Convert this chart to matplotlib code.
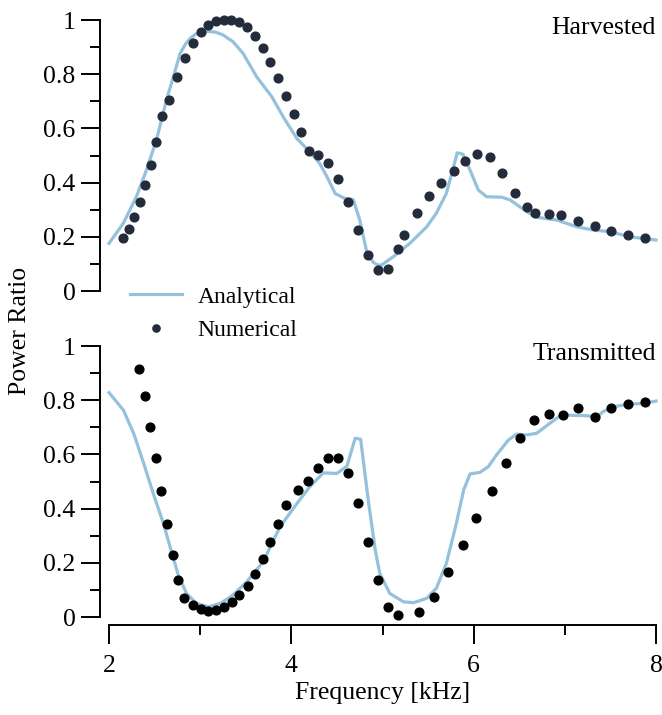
import matplotlib
matplotlib.use('Agg')
import matplotlib.pyplot as plt
from matplotlib.lines import Line2D

plt.rcParams['font.family'] = ['Liberation Serif', 'DejaVu Serif']
plt.rcParams['font.size'] = 18.5

# Harvested power ratio
harv_num_f = [2.15, 2.216, 2.27, 2.337, 2.40, 2.457, 2.52, 2.58, 2.66, 2.75, 2.83, 2.92,
              3.006, 3.09, 3.17, 3.26, 3.34, 3.43, 3.51, 3.60, 3.686, 3.77, 3.857, 3.945,
              4.03, 4.11, 4.197, 4.296, 4.405, 4.515, 4.625, 4.73, 4.84, 4.95, 5.06, 5.17,
              5.24, 5.378, 5.51, 5.64, 5.78, 5.91, 6.04, 6.18, 6.31, 6.45, 6.58, 6.67,
              6.83, 6.96, 7.14, 7.33, 7.51, 7.69, 7.876]
harv_num_p = [0.196, 0.23, 0.273, 0.328, 0.391, 0.465, 0.55, 0.647, 0.706, 0.79, 0.86, 0.914,
              0.954, 0.98, 0.997, 1.0, 1.0, 0.994, 0.974, 0.942, 0.898, 0.846, 0.786, 0.721,
              0.654, 0.586, 0.518, 0.502, 0.472, 0.414, 0.328, 0.226, 0.133, 0.077, 0.081, 0.154,
              0.207, 0.287, 0.352, 0.40, 0.442, 0.48, 0.504, 0.493, 0.437, 0.36, 0.309, 0.287,
              0.285, 0.28, 0.26, 0.24, 0.223, 0.207, 0.196]
harv_ana_f = [2.0, 2.157, 2.30, 2.41, 2.52, 2.63, 2.705, 2.78, 2.84, 2.89, 2.95, 3.0, 3.09,
              3.17, 3.25, 3.36, 3.47, 3.62, 3.785, 3.91, 4.06, 4.20, 4.31, 4.39, 4.48, 4.57,
              4.68, 4.75, 4.83, 4.90, 4.95, 4.99, 5.12, 5.30, 5.485, 5.59, 5.70, 5.82, 5.88,
              5.96, 6.05, 6.14, 6.31, 6.40, 6.58, 6.69, 6.91, 7.13, 7.31, 7.495, 7.715, 8.0]
harv_ana_p = [0.176, 0.25, 0.348, 0.446, 0.557, 0.705, 0.79, 0.877, 0.912, 0.932, 0.948,
              0.955, 0.958, 0.955, 0.945, 0.92, 0.877, 0.79, 0.717, 0.643, 0.563, 0.514,
              0.471, 0.422, 0.36, 0.344, 0.336, 0.262, 0.139, 0.105, 0.096, 0.096, 0.127,
              0.176, 0.237, 0.287, 0.36, 0.51, 0.505, 0.446, 0.373, 0.348, 0.346, 0.336,
              0.293, 0.272, 0.262, 0.237, 0.225, 0.219, 0.20, 0.188]

# Transmitted power ratio
trans_num_f = [2.333, 2.395, 2.453, 2.52, 2.574, 2.636, 2.70, 2.76, 2.82, 2.92, 3.01, 3.09,
               3.17, 3.26, 3.345, 3.43, 3.52, 3.60, 3.686, 3.77, 3.857, 3.945, 4.07, 4.18,
               4.296, 4.405, 4.515, 4.625, 4.73, 4.84, 4.95, 5.06, 5.17, 5.40, 5.56, 5.72,
               5.88, 6.03, 6.20, 6.35, 6.51, 6.665, 6.83, 6.98, 7.14, 7.33, 7.51, 7.69, 7.876]
trans_num_p = [0.916, 0.815, 0.703, 0.586, 0.464, 0.343, 0.23, 0.137, 0.071, 0.044, 0.028,
               0.023, 0.026, 0.038, 0.055, 0.08, 0.116, 0.159, 0.213, 0.276, 0.342, 0.414,
               0.468, 0.503, 0.55, 0.586, 0.586, 0.53, 0.422, 0.277, 0.136, 0.038, 0.006,
               0.018, 0.075, 0.165, 0.265, 0.364, 0.465, 0.567, 0.66, 0.727, 0.751, 0.745,
               0.772, 0.737, 0.771, 0.788, 0.795]
trans_ana_f = [2.0, 2.157, 2.27, 2.38, 2.485, 2.596, 2.69, 2.76, 2.85, 2.96, 3.09, 3.22, 3.36,
               3.51, 3.69, 3.875, 4.09, 4.20, 4.35, 4.50, 4.61, 4.70, 4.76, 4.84, 4.92, 4.97,
               5.08, 5.23, 5.34, 5.485, 5.59, 5.70, 5.81, 5.89, 5.96, 6.07, 6.16, 6.25, 6.38,
               6.47, 6.58, 6.69, 6.84, 6.965, 7.09, 7.24, 7.35, 7.42, 7.53, 7.715, 7.86, 8.0]
trans_ana_p = [0.828, 0.764, 0.678, 0.567, 0.456, 0.346, 0.235, 0.155, 0.087, 0.05, 0.038,
               0.05, 0.081, 0.13, 0.204, 0.333, 0.432, 0.48, 0.532, 0.53, 0.557, 0.66, 0.656,
               0.44, 0.247, 0.161, 0.087, 0.056, 0.053, 0.069, 0.106, 0.198, 0.346, 0.469,
               0.528, 0.534, 0.555, 0.598, 0.653, 0.675, 0.672, 0.678, 0.716, 0.747, 0.744,
               0.743, 0.738, 0.758, 0.776, 0.786, 0.788, 0.797]

x_ticks = [2, 4, 6, 8]
y_ticks = [0, 0.2, 0.4, 0.6, 0.8, 1]
y_tick_labels = ['0', '0.2', '0.4', '0.6', '0.8', '1']

line_col = '#94c1dc'
top_dot = '#242b3b'

fig = plt.figure(figsize=(6.62, 7.15), dpi=100)
ax1 = fig.add_axes([0.1647, 0.593, 0.8263, 0.379])
ax2 = fig.add_axes([0.1647, 0.137, 0.8263, 0.379])


def style(ax, bottom):
    ax.set_xlim(2, 8)
    ax.set_ylim(0, 1)
    for s in ['top', 'right']:
        ax.spines[s].set_visible(False)
    ax.spines['left'].set_position(('outward', 6.5))
    ax.spines['left'].set_linewidth(1.4)
    ax.set_yticks(y_ticks)
    ax.set_yticklabels(y_tick_labels)
    ax.set_yticks([0.1, 0.3, 0.5, 0.7, 0.9], minor=True)
    ax.tick_params(axis='y', which='major', length=13.7, width=1.4, pad=4)
    ax.tick_params(axis='y', which='minor', length=7.2, width=1.4)
    if bottom:
        ax.spines['bottom'].set_position(('outward', 6))
        ax.spines['bottom'].set_linewidth(1.4)
        ax.set_xticks(x_ticks)
        ax.set_xticks([3, 5, 7], minor=True)
        ax.tick_params(axis='x', which='major', length=13.7, width=1.4, pad=7.5)
        ax.tick_params(axis='x', which='minor', length=7.2, width=1.4)
    else:
        ax.spines['bottom'].set_visible(False)
        ax.set_xticks([])
        ax.set_xticks([], minor=True)


ax1.plot(harv_ana_f, harv_ana_p, color=line_col, lw=2.3, clip_on=False, zorder=2)
ax1.plot(harv_num_f, harv_num_p, 'o', color=top_dot, ms=6.3, clip_on=False, zorder=3)
style(ax1, False)
ax1.text(1.0, 0.97, 'Harvested', transform=ax1.transAxes, ha='right', va='center')

ax2.plot(trans_ana_f, trans_ana_p, color=line_col, lw=2.3, clip_on=False, zorder=2)
ax2.plot(trans_num_f, trans_num_p, 'o', color='black', ms=6.3, clip_on=False, zorder=3)
style(ax2, True)
ax2.text(1.0, 0.97, 'Transmitted', transform=ax2.transAxes, ha='right', va='center')
ax2.set_xlabel('Frequency [kHz]', labelpad=4)

fig.text(0.03, 0.537, 'Power Ratio', rotation=90, ha='center', va='center')

handles = [Line2D([], [], color=line_col, lw=2.3),
           Line2D([], [], ls='none', marker='o', color=top_dot, ms=5.2)]
fig.legend(handles, ['Analytical', 'Numerical'], loc='upper left',
           bbox_to_anchor=(0.197, 0.600), frameon=False, fontsize=17,
           borderpad=0, borderaxespad=0, handlelength=2.2, handletextpad=0.65,
           labelspacing=0.52)

fig.savefig('out.png', dpi=100)
